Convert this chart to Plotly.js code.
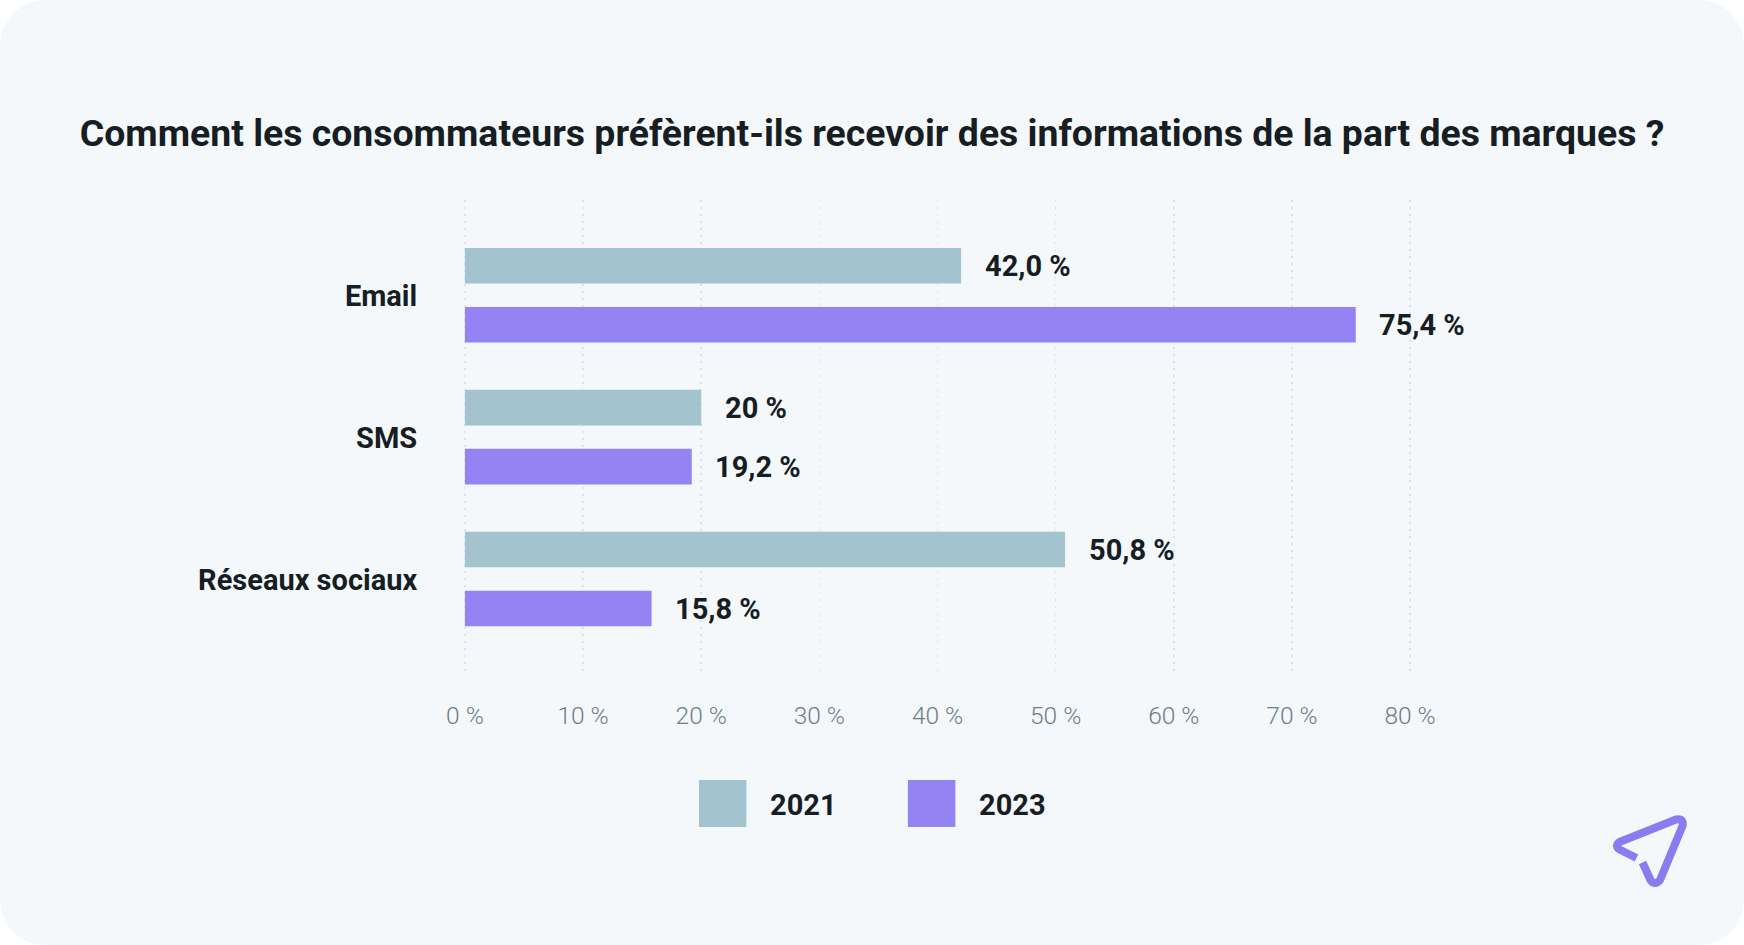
<!DOCTYPE html>
<html><head><meta charset="utf-8">
<script src="https://cdn.plot.ly/plotly-3.0.1.min.js"></script>
<style>
html,body{margin:0;padding:0;background:#fff;width:1744px;height:945px;overflow:hidden}
#card{position:absolute;left:0;top:0;width:1744px;height:945px;background:#F4F8FB;border-radius:45px;overflow:hidden}
#chart{position:absolute;left:0;top:0;width:1744px;height:945px}
#logo{position:absolute;left:0;top:0}
</style></head><body>
<div id="card"><div id="chart"></div>
<svg id="logo" width="1744" height="945"><path d="M1636.5 858L1619.5 849.5Q1614.5 845.5 1619.5 842L1676 819.5Q1684 818 1682.5 826L1660 880Q1655 886 1650.5 880L1642.5 862.5" fill="none" stroke="#8A7BEE" stroke-width="8" stroke-linejoin="round"/></svg>
</div>
<script>
const categories = ["Email", "SMS", "Réseaux sociaux"];
const years = ["2021", "2023"];
const values2021 = [42.0, 20, 50.8];
const values2023 = [75.4, 19.2, 15.8];
const labels2021 = ["42,0 %", "20 %", "50,8 %"];
const labels2023 = ["75,4 %", "19,2 %", "15,8 %"];
const tickValues = [0, 10, 20, 30, 40, 50, 60, 70, 80];
const tickLabels = ["0 %", "10 %", "20 %", "30 %", "40 %", "50 %", "60 %", "70 %", "80 %"];
const titleText = "Comment les consommateurs préfèrent-ils recevoir des informations de la part des marques ?";
const colors = ["#A3C4CE", "#9683F3"];
const ink = "#161D23";

const W = 1744, H = 945;
const m = {l: 458.6, r: W - 1415.6, t: 200, b: H - 675};
const pw = W - m.l - m.r, ph = H - m.t - m.b;
const px = x => (x - m.l) / pw;
const py = y => 1 - (y - m.t) / ph;
const fam = "Roboto, sans-serif";

const barTrace = (name, vals, color) => ({
  type: "bar", orientation: "h", name, x: vals, y: categories,
  marker: {color, line: {width: 0}}, hoverinfo: "skip", cliponaxis: false
});
const dataLabels = (vals, labels, shift) => vals.map((v, i) => ({
  x: v, y: categories[i], xref: "x", yref: "y", text: labels[i], showarrow: false,
  xanchor: "left", yanchor: "middle", xshift: 21.6, yshift: shift,
  font: {family: fam, size: 29, weight: 700, color: ink}
}));

const legendX = [698.5, 907.5];
const shapes = years.map((y, i) => ({
  type: "rect", xref: "paper", yref: "paper", layer: "above",
  x0: px(legendX[i]), x1: px(legendX[i] + 47.5), y0: py(827), y1: py(780),
  fillcolor: colors[i], line: {width: 0}
}));
const legendLabels = years.map((y, i) => ({
  xref: "paper", yref: "paper", x: px(legendX[i] + 69), y: py(805), text: y, showarrow: false,
  xanchor: "left", yanchor: "middle", font: {family: fam, size: 29, weight: 700, color: ink}
}));

Plotly.newPlot("chart", [
  barTrace(years[0], values2021, colors[0]),
  barTrace(years[1], values2023, colors[1])
], {
  width: W, height: H, margin: m, showlegend: false,
  paper_bgcolor: "rgba(0,0,0,0)", plot_bgcolor: "rgba(0,0,0,0)",
  barmode: "group", bargap: 0.168, bargroupgap: 0.397,
  font: {family: fam},
  title: {text: titleText, x: 872 / W, xanchor: "center", y: 1 - 133 / H, yanchor: "middle",
          font: {family: fam, size: 37.4, weight: 700, color: ink}},
  xaxis: {range: [-0.5, 80.5], tickvals: tickValues, ticktext: tickLabels, showgrid: true,
          griddash: "2px,5px", gridcolor: "#DFE3E8", gridwidth: 1.5, zeroline: false, showline: false,
          ticks: "outside", ticklen: 19, tickcolor: "rgba(0,0,0,0)",
          tickfont: {family: fam, size: 24.5, weight: 300, color: "#6F7D88"}},
  yaxis: {type: "category", categoryorder: "array", categoryarray: categories, range: [2.677, -0.672],
          showgrid: false, zeroline: false, showline: false,
          ticks: "outside", ticklen: 35, tickcolor: "rgba(0,0,0,0)", ticklabelshift: -1,
          tickfont: {family: fam, size: 29, weight: 700, color: ink}},
  shapes,
  annotations: [...dataLabels(values2021, labels2021, 29), ...dataLabels(values2023, labels2023, -30), ...legendLabels]
}, {displayModeBar: false, staticPlot: true});
</script></body></html>
